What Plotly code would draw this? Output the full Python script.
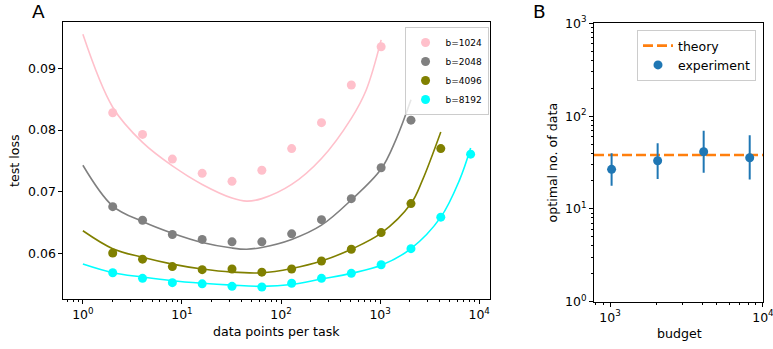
import plotly.graph_objects as go

# ---------------- Panel A data ----------------
n_per_task = [2, 4, 8, 16, 32, 64, 128, 256, 512, 1024, 2048, 4096, 8192]

loss_b1024 = [0.0828, 0.0793, 0.0753, 0.0730, 0.0717, 0.0735, 0.0770, 0.0812, 0.0873, 0.0935]
loss_b2048 = [0.0676, 0.0654, 0.0631, 0.0623, 0.0619, 0.0619, 0.0632, 0.0655, 0.0689, 0.0739, 0.0816]
loss_b4096 = [0.0601, 0.0591, 0.0579, 0.0574, 0.0575, 0.0570, 0.0575, 0.0588, 0.0607, 0.0634, 0.0681, 0.0770]
loss_b8192 = [0.0569, 0.0560, 0.0553, 0.0551, 0.0547, 0.0546, 0.0552, 0.0560, 0.0568, 0.0582, 0.0608, 0.0659, 0.0761]

# fitted curves
fit_b1024_x = [1, 2, 4, 8, 16, 32, 45, 64, 128, 256, 512, 724, 1024]
fit_b1024_y = [0.0955, 0.0837, 0.0780, 0.0742, 0.0712, 0.0690, 0.0685, 0.0689, 0.0712, 0.0754, 0.0819, 0.0865, 0.0946]
fit_b2048_x = [1, 2, 4, 8, 16, 32, 45, 64, 128, 256, 512, 1024, 1448, 2048]
fit_b2048_y = [0.0743, 0.0677, 0.0652, 0.0633, 0.0618, 0.0609, 0.0607, 0.0610, 0.0623, 0.0646, 0.0687, 0.0737, 0.0785, 0.0849]
fit_b4096_x = [1, 2, 4, 8, 16, 32, 64, 128, 256, 512, 1024, 2048, 2675, 4096]
fit_b4096_y = [0.0637, 0.0608, 0.0594, 0.0583, 0.0575, 0.0570, 0.0569, 0.0576, 0.0588, 0.0607, 0.0633, 0.0681, 0.0719, 0.0797]
fit_b8192_x = [1, 2, 4, 8, 16, 32, 64, 128, 256, 512, 1024, 2048, 4096, 6324, 8192]
fit_b8192_y = [0.0583, 0.0569, 0.0562, 0.0556, 0.0552, 0.0549, 0.0547, 0.0550, 0.0559, 0.0568, 0.0581, 0.0608, 0.0659, 0.0719, 0.0771]

series_names = ["b=1024", "b=2048", "b=4096", "b=8192"]
series_colors = ["#FFC0CB", "#808080", "#808000", "#00FFFF"]

# ---------------- Panel B data ----------------
budget = [1024, 2048, 4096, 8192]
opt_n = [26.7, 33.1, 41.3, 35.6]
opt_upper = [39.7, 50.9, 69.6, 62.1]
opt_lower = [17.8, 21.0, 24.5, 20.8]
theory_value = 38.1
theory_x = [10 ** 2.895, 10 ** 4.0]

FONT = "DejaVu Sans"
TICK_SIZE = 12.5
LABEL_SIZE = 12.6
fig = go.Figure()

losses = [loss_b1024, loss_b2048, loss_b4096, loss_b8192]
fits_x = [fit_b1024_x, fit_b2048_x, fit_b4096_x, fit_b8192_x]
fits_y = [fit_b1024_y, fit_b2048_y, fit_b4096_y, fit_b8192_y]

for name, col, fx, fy in zip(series_names, series_colors, fits_x, fits_y):
    fig.add_trace(go.Scatter(x=fx, y=fy, mode="lines",
                             line=dict(color=col, width=1.6, shape="spline", smoothing=1.0),
                             showlegend=False, hoverinfo="skip", xaxis="x", yaxis="y"))
for name, col, ys in zip(series_names, series_colors, losses):
    fig.add_trace(go.Scatter(x=n_per_task[:len(ys)], y=ys, mode="markers", name=name,
                             marker=dict(color=col, size=9), xaxis="x", yaxis="y", legend="legend"))

# Panel B
fig.add_trace(go.Scatter(x=theory_x, y=[theory_value, theory_value], mode="lines", name="theory",
                         line=dict(color="#ff7f0e", width=2.7, dash="10px,4px"),
                         xaxis="x2", yaxis="y2", legend="legend2"))
fig.add_trace(go.Scatter(x=budget, y=opt_n, mode="markers", name="experiment",
                         marker=dict(color="#1f77b4", size=9),
                         error_y=dict(type="data", symmetric=False,
                                      array=[u - v for u, v in zip(opt_upper, opt_n)],
                                      arrayminus=[v - l for v, l in zip(opt_n, opt_lower)],
                                      color="#1f77b4", thickness=2, width=0),
                         xaxis="x2", yaxis="y2", legend="legend2"))

minor_log = [m * 10 ** k for k in range(-1, 5) for m in range(2, 10)]


def pw(k):
    return "10<sup>%d</sup>" % k


axis_common = dict(showline=True, linecolor="black", linewidth=1, mirror=True, ticks="outside",
                   ticklen=4, tickwidth=1, tickcolor="black", showgrid=False, zeroline=False,
                   automargin=False, ticklabeloverflow="allow",
                   tickfont=dict(family=FONT, size=TICK_SIZE, color="black"))
minor_common = dict(tickmode="array", tickvals=minor_log, ticks="outside", ticklen=2,
                    tickcolor="black", showgrid=False)

fig.update_layout(
    template="none",
    width=773, height=349, margin=dict(l=0, r=0, t=0, b=0, autoexpand=False),
    paper_bgcolor="white", plot_bgcolor="white",
    font=dict(family=FONT, size=12, color="black"),
    xaxis=dict(type="log", range=[-0.196, 4.109], domain=[0.0821, 0.6339], anchor="y",
               tickmode="array", tickvals=[1, 10, 100, 1000, 10000], ticktext=[pw(k) for k in range(5)],
               minor=minor_common, **axis_common),
    yaxis=dict(range=[0.0526, 0.0975], domain=[0.1424, 0.937], anchor="x",
               tickmode="array", tickvals=[0.06, 0.07, 0.08, 0.09], ticktext=["0.06", "0.07", "0.08", "0.09"],
               **axis_common),
    xaxis2=dict(type="log", range=[2.895, 4.0005], domain=[0.7684, 0.9871], anchor="y2",
                tickmode="array", tickvals=[1000, 10000], ticktext=[pw(3), pw(4)],
                minor=minor_common, **axis_common),
    yaxis2=dict(type="log", range=[0, 3.0005], domain=[0.1355, 0.9332], anchor="x2",
                tickmode="array", tickvals=[1, 10, 100, 1000], ticktext=[pw(k) for k in range(4)],
                minor=minor_common, **axis_common),
    legend=dict(x=0.6320, y=0.9226, xanchor="right", yanchor="top", bgcolor="rgba(255,255,255,0.8)",
                bordercolor="#cccccc", borderwidth=1, tracegroupgap=0,
                font=dict(family=FONT, size=9, color="black")),
    legend2=dict(x=0.978, y=0.914, xanchor="right", yanchor="top", bgcolor="rgba(255,255,255,0.8)",
                 bordercolor="#cccccc", borderwidth=1,
                 font=dict(family=FONT, size=12.5, color="black")),
    annotations=[
        dict(text="A", x=38.7 / 773, y=1.0, xref="paper", yref="paper", showarrow=False, borderpad=0,
             font=dict(family=FONT, size=18.5, color="black"), xanchor="center", yanchor="top"),
        dict(text="B", x=539 / 773, y=1.0, xref="paper", yref="paper", showarrow=False, borderpad=0,
             font=dict(family=FONT, size=18.5, color="black"), xanchor="center", yanchor="top"),
        dict(text="data points per task", x=276.5 / 773, y=1 - 331.5 / 349, xref="paper", yref="paper",
             showarrow=False, font=dict(family=FONT, size=LABEL_SIZE, color="black"),
             xanchor="center", yanchor="middle"),
        dict(text="test loss", x=14.5 / 773, y=1 - 160.5 / 349, xref="paper", yref="paper", textangle=-90,
             showarrow=False, font=dict(family=FONT, size=LABEL_SIZE, color="black"),
             xanchor="center", yanchor="middle"),
        dict(text="budget", x=679 / 773, y=1 - 333 / 349, xref="paper", yref="paper",
             showarrow=False, font=dict(family=FONT, size=LABEL_SIZE, color="black"),
             xanchor="center", yanchor="middle"),
        dict(text="optimal no. of data", x=552 / 773, y=1 - 162.5 / 349, xref="paper", yref="paper",
             textangle=-90, showarrow=False, font=dict(family=FONT, size=LABEL_SIZE, color="black"),
             xanchor="center", yanchor="middle"),
    ],
)

fig.write_html("out.html", config={"displayModeBar": False},
               post_script="document.body.style.margin='0px';document.body.style.overflow='hidden';")
